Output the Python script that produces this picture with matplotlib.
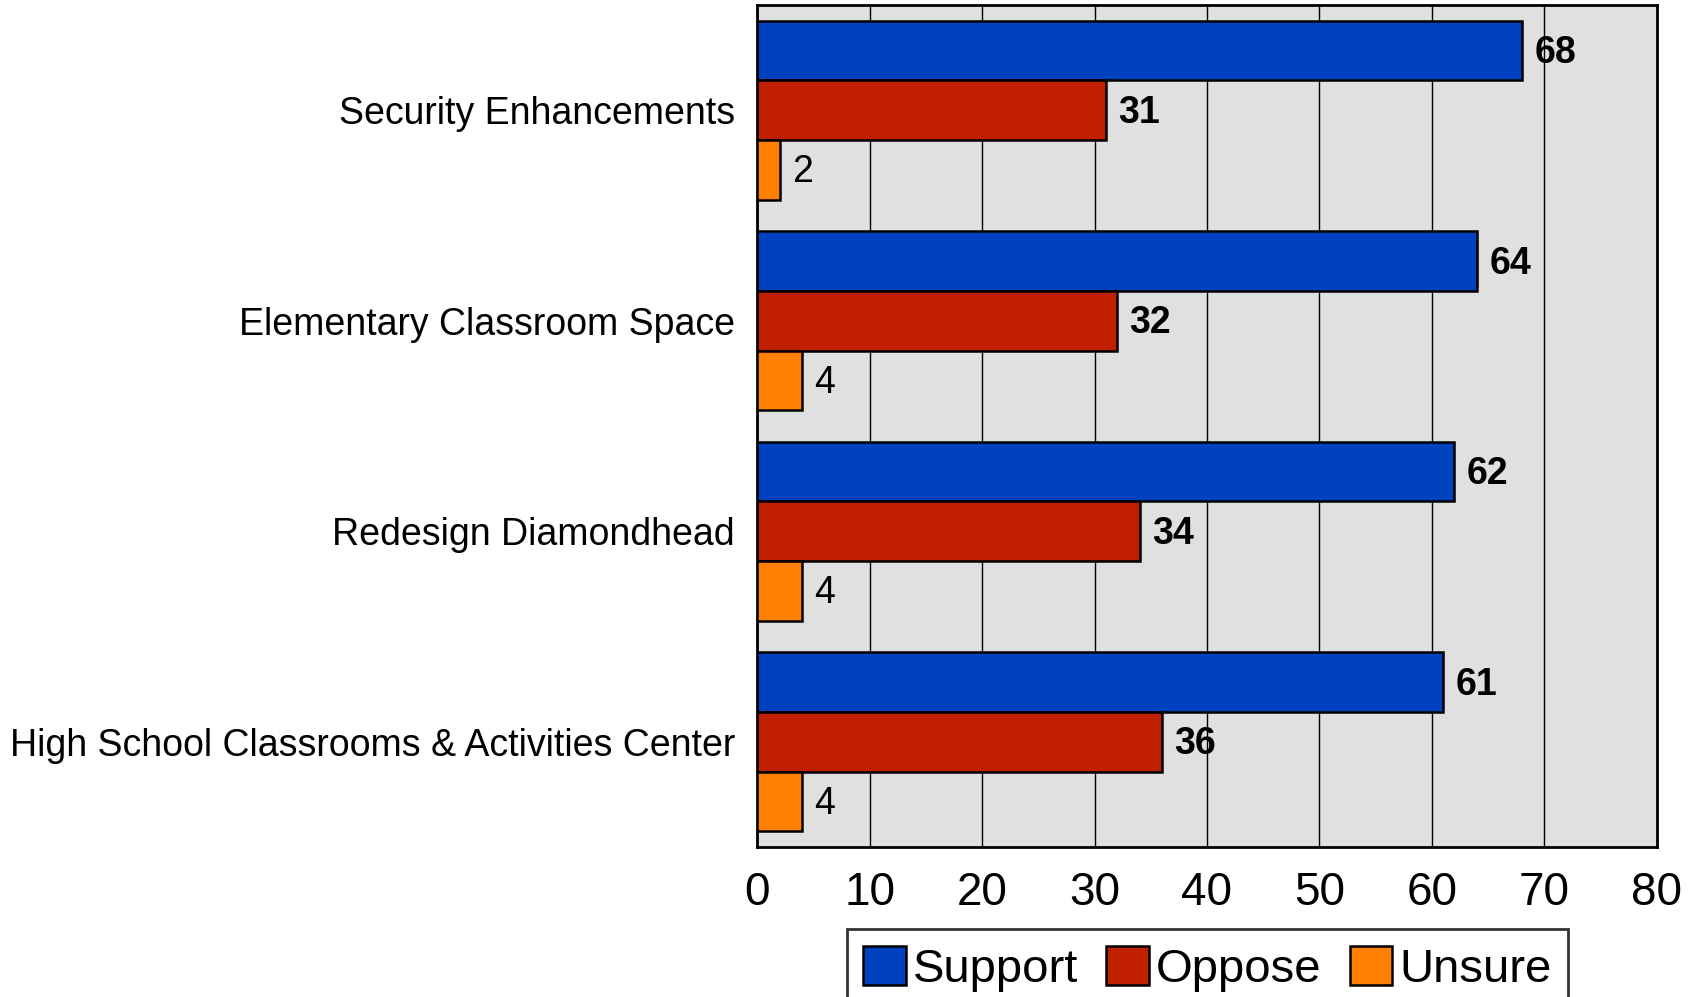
import matplotlib.pyplot as plt
import numpy as np

plt.rcParams['font.family'] = ['Liberation Sans', 'DejaVu Sans']

categories = ['Security Enhancements', 'Elementary Classroom Space',
              'Redesign Diamondhead', 'High School Classrooms & Activities Center']
support = [68, 64, 62, 61]
oppose = [31, 32, 34, 36]
unsure = [2, 4, 4, 4]

series = [('Support', support, '#0041C0', 'bold'),
          ('Oppose', oppose, '#C02000', 'bold'),
          ('Unsure', unsure, '#FF8000', 'normal')]

fig = plt.figure(figsize=(17, 9.97), dpi=100)
ax = fig.add_axes([0.4453, 0.1505, 0.5294, 0.8445])
ax.set_facecolor('#E0E0E0')

y = np.arange(len(categories))
h = 0.2835
for i, (name, vals, col, wt) in enumerate(series):
    pos = y + (i - 1) * h
    ax.barh(pos, vals, height=h, color=col, edgecolor='black', linewidth=1.8,
            label=name, zorder=3)
    for p, v in zip(pos, vals):
        # labels sit a touch below bar centre in the original
        ax.text(v + 1.1, p + 0.012, str(v), va='center', ha='left', fontsize=27,
                fontweight=wt, zorder=4)

ax.set_xlim(0, 80)
ax.set_ylim(3.5, -0.5)
ax.set_xticks(range(0, 81, 10))
ax.set_yticks(y)
ax.set_yticklabels(categories, fontsize=27)
ax.tick_params(axis='x', length=0, pad=17, labelsize=33)
ax.tick_params(axis='y', length=0, pad=16)
ax.grid(axis='x', color='black', linewidth=1, zorder=1)
for s in ax.spines.values():
    s.set_linewidth(2)

leg = fig.legend(loc='upper left', bbox_to_anchor=(0.498, 0.068), ncol=3,
                 fontsize=34, frameon=True, fancybox=False, edgecolor='black',
                 handlelength=0.9, handleheight=0.9, handletextpad=0.15,
                 columnspacing=0.6, borderpad=0.35, borderaxespad=0)
leg.get_frame().set_linewidth(2)

fig.savefig('out.png', dpi=100)
